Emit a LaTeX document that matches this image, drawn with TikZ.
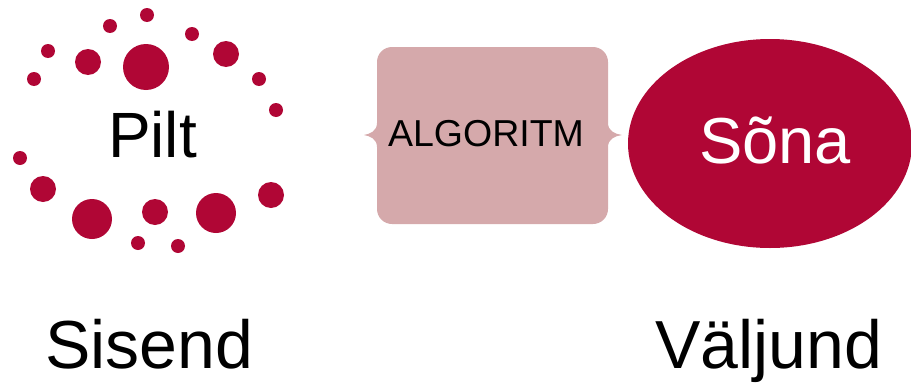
\documentclass[tikz,border=0pt]{standalone}
\usepackage{fontspec}
\setmainfont{Liberation Sans}
\usetikzlibrary{shapes.geometric}
\definecolor{crimson}{RGB}{176,6,53}
\definecolor{dustpink}{RGB}{213,169,171}
\tikzset{
  dot/.style={fill=crimson},
  bigtext/.style={inner sep=0pt, anchor=base, font=\fontsize{68}{72}\selectfont},
}
\begin{document}
\begin{tikzpicture}[x=1pt,y=-1pt]
\useasboundingbox (0,0) rectangle (911,383);
% dots around Pilt
\foreach \x/\y/\r in {147/15/7, 110/26/7, 192/34/7, 48/51/7, 88/62/13, 146/67/23,
  226/54/13, 34/79/7, 259/79/7, 276/110/7, 20/158/7, 43/189/13, 92/219/20,
  155/212/13, 216/213/20, 271/195/13, 138/243/7, 178/246/7}
  \fill[dot] (\x,\y) circle[radius=\r];
\node[bigtext, font=\fontsize{64}{70}\selectfont] (pilt) at (152.5,157) {Pilt};
% algorithm box with brace sides
\fill[dustpink] (392,47) -- (593,47) arc[start angle=270,end angle=360,radius=15]
  -- (608,123) .. controls (608,131) and (615,134) .. (622,135)
  .. controls (615,136) and (608,139) .. (608,147)
  -- (608,209) arc[start angle=0,end angle=90,radius=15]
  -- (392,224) arc[start angle=90,end angle=180,radius=15]
  -- (377,147) .. controls (377,139) and (370,136) .. (364,135)
  .. controls (370,134) and (377,131) .. (377,123)
  -- (377,62) arc[start angle=180,end angle=270,radius=15] -- cycle;
\node[inner sep=0pt, anchor=base, font=\fontsize{37.5}{40}\selectfont] (algo) at (486,146) {ALGORITM};
% output ellipse
\node[ellipse, fill=crimson, minimum width=284pt, minimum height=209pt, inner sep=0pt] (out) at (770,143.5) {};
\node[bigtext, text=white, font=\fontsize{65}{70}\selectfont] (sona) at (775,163) {Sõna};
% captions
\node[bigtext] (sisend) at (149,368) {Sisend};
\node[bigtext] (valjund) at (769,368) {Väljund};
\end{tikzpicture}
\end{document}
